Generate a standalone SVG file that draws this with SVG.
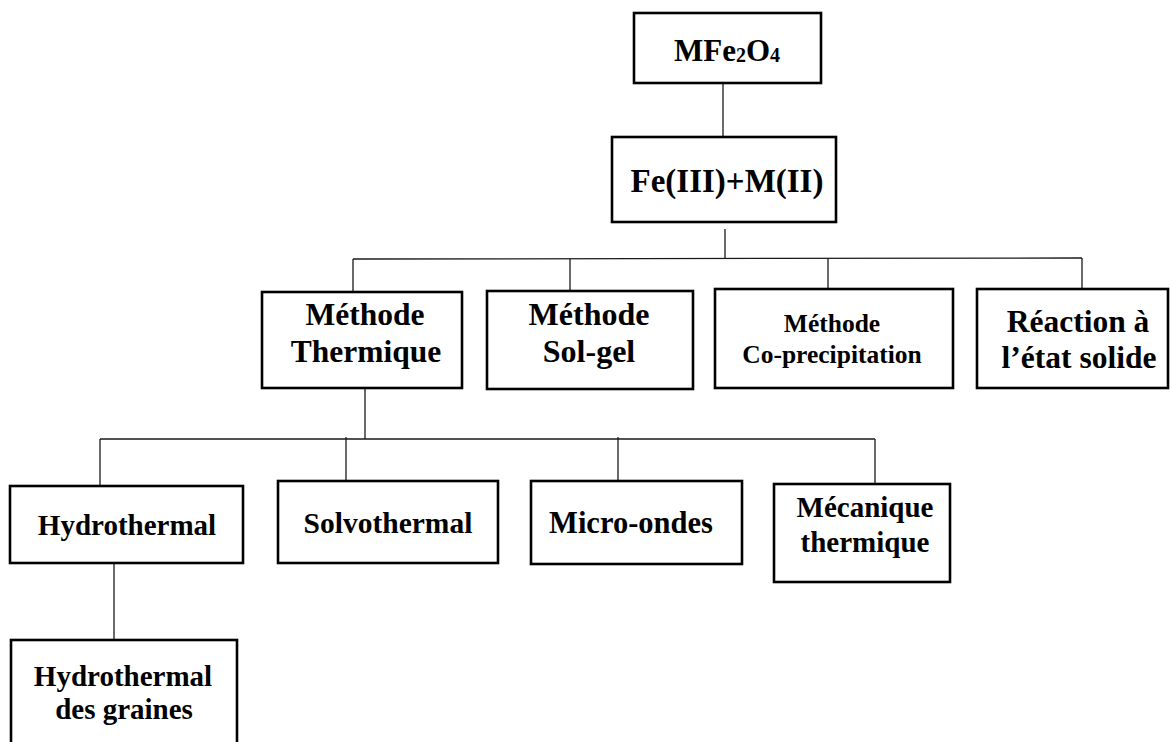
<svg xmlns="http://www.w3.org/2000/svg" width="1172" height="742" viewBox="0 0 1172 742">
  <style>
    .box { fill: #ffffff; stroke: #000000; stroke-width: 2.6; }
    .lbl { font-family: "Liberation Serif", "Times New Roman", serif; font-weight: bold; fill: #000000; text-anchor: middle; }
    .conn { stroke: #1a1a1a; stroke-width: 1.3; fill: none; }
  </style>
  <rect width="1172" height="742" fill="#ffffff"/>

  <!-- connectors -->
  <g id="connectors" class="conn">
    <line x1="723" y1="83" x2="723" y2="137"/>
    <line x1="725" y1="229" x2="725" y2="258"/>
    <line x1="353" y1="259" x2="1082" y2="258"/>
    <line x1="353" y1="259" x2="353" y2="291"/>
    <line x1="570" y1="259" x2="570" y2="290"/>
    <line x1="828" y1="258" x2="828" y2="289"/>
    <line x1="1082" y1="258" x2="1082" y2="289"/>
    <line x1="365" y1="388" x2="365" y2="439"/>
    <line x1="100" y1="439" x2="875" y2="439"/>
    <line x1="100" y1="439" x2="100" y2="486"/>
    <line x1="346" y1="437" x2="346" y2="481"/>
    <line x1="618" y1="437" x2="618" y2="481"/>
    <line x1="875" y1="439" x2="875" y2="484"/>
    <line x1="114" y1="563" x2="114" y2="640"/>
  </g>

  <g id="n-mfe2o4">
    <rect class="box" x="634" y="13" width="187" height="70"/>
    <text class="lbl" x="727" y="61" font-size="31">MFe<tspan font-size="20" dy="1">2</tspan><tspan dy="-1">O</tspan><tspan font-size="20" dy="1">4</tspan></text>
  </g>

  <g id="n-precursors">
    <rect class="box" x="612" y="137" width="224" height="85"/>
    <text class="lbl" x="727" y="192" font-size="33">Fe(III)+M(II)</text>
  </g>

  <g id="n-thermique">
    <rect class="box" x="262" y="292" width="200" height="96"/>
    <text class="lbl" x="365" y="325" font-size="31.5">Méthode</text>
    <text class="lbl" x="366" y="362" font-size="31.5">Thermique</text>
  </g>

  <g id="n-solgel">
    <rect class="box" x="487" y="291" width="206" height="98"/>
    <text class="lbl" x="589" y="325" font-size="32">Méthode</text>
    <text class="lbl" x="589" y="362" font-size="32">Sol-gel</text>
  </g>

  <g id="n-coprecipitation">
    <rect class="box" x="715" y="289" width="238" height="99"/>
    <text class="lbl" x="832" y="332" font-size="25.5">Méthode</text>
    <text class="lbl" x="832" y="363" font-size="25.5">Co-precipitation</text>
  </g>

  <g id="n-solide">
    <rect class="box" x="977" y="289" width="191" height="99"/>
    <text class="lbl" x="1078" y="332" font-size="31.5">Réaction à</text>
    <text class="lbl" x="1079" y="368" font-size="31.5">l’état solide</text>
  </g>

  <g id="n-hydrothermal">
    <rect class="box" x="10" y="486" width="233" height="77"/>
    <text class="lbl" x="127" y="535" font-size="29">Hydrothermal</text>
  </g>

  <g id="n-solvothermal">
    <rect class="box" x="278" y="481" width="220" height="82"/>
    <text class="lbl" x="388" y="533" font-size="29.5">Solvothermal</text>
  </g>

  <g id="n-microondes">
    <rect class="box" x="531" y="481" width="211" height="83"/>
    <text class="lbl" x="631" y="533" font-size="30.5">Micro-ondes</text>
  </g>

  <g id="n-mecanique">
    <rect class="box" x="774" y="484" width="176" height="98"/>
    <text class="lbl" x="865" y="517" font-size="29">Mécanique</text>
    <text class="lbl" x="865" y="552" font-size="29">thermique</text>
  </g>

  <g id="n-graines">
    <rect class="box" x="11" y="640" width="226" height="110"/>
    <text class="lbl" x="123" y="686" font-size="29">Hydrothermal</text>
    <text class="lbl" x="124" y="719" font-size="29">des graines</text>
  </g>
</svg>
